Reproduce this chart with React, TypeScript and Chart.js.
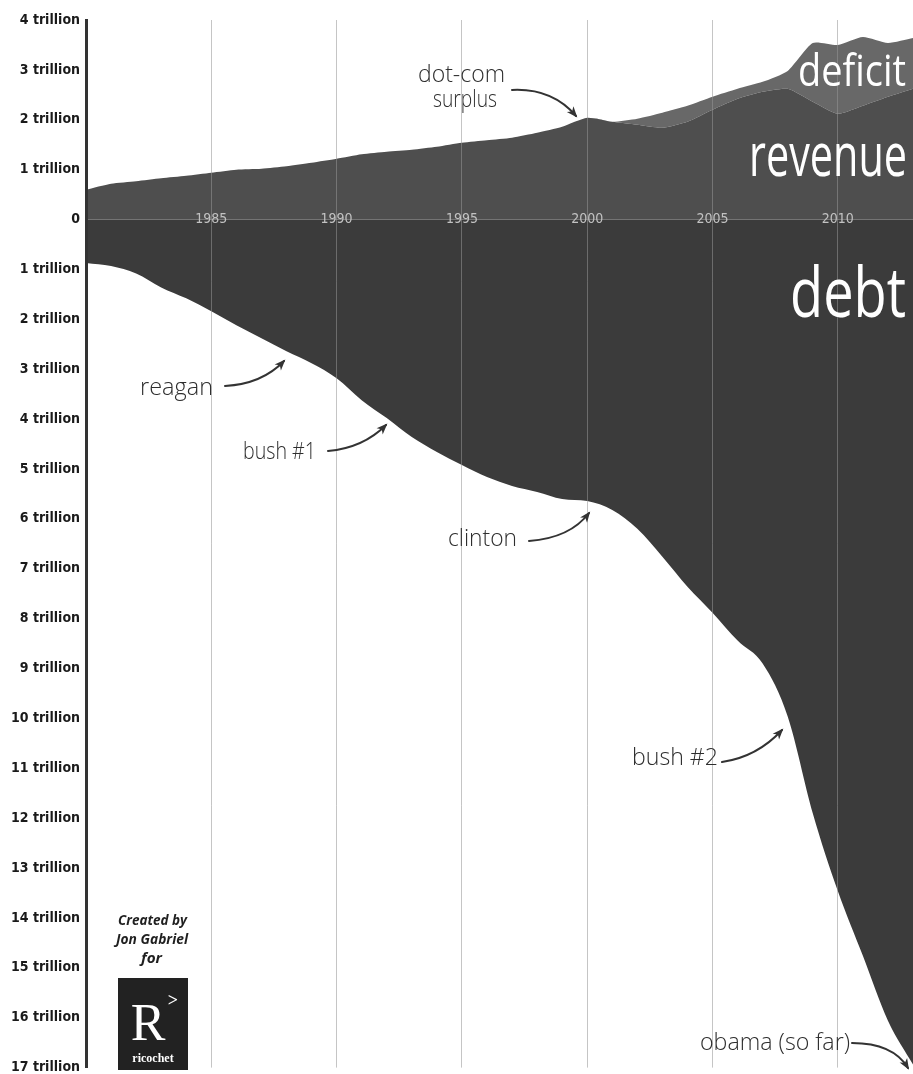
import React, { useEffect, useRef } from 'react';
import { Chart, registerables } from 'chart.js';

Chart.register(...registerables);

// ---- data (trillions of dollars) ----
const years = [
  1980, 1981, 1982, 1983, 1984, 1985, 1986, 1987, 1988, 1989,
  1990, 1991, 1992, 1993, 1994, 1995, 1996, 1997, 1998, 1999,
  2000, 2001, 2002, 2003, 2004, 2005, 2006, 2007, 2008, 2009,
  2010, 2011, 2012, 2013,
];

// lower (dark) band above zero
const revenue = [
  0.60, 0.72, 0.77, 0.83, 0.88, 0.94, 1.00, 1.02, 1.07, 1.14,
  1.22, 1.31, 1.36, 1.40, 1.46, 1.54, 1.59, 1.64, 1.74, 1.86,
  2.04, 1.96, 1.90, 1.84, 1.96, 2.20, 2.42, 2.56, 2.62, 2.36,
  2.12, 2.28, 2.46, 2.62,
];

// top line (revenue + deficit)
const spending = [
  0.60, 0.72, 0.77, 0.83, 0.88, 0.94, 1.00, 1.02, 1.07, 1.14,
  1.22, 1.31, 1.36, 1.40, 1.46, 1.54, 1.59, 1.64, 1.74, 1.86,
  2.04, 1.96, 2.02, 2.14, 2.28, 2.46, 2.62, 2.76, 2.98, 3.54,
  3.50, 3.66, 3.54, 3.64,
];

// national debt (drawn downward)
const debt = [
  0.87, 0.93, 1.08, 1.36, 1.58, 1.84, 2.12, 2.38, 2.64, 2.88,
  3.18, 3.62, 3.98, 4.36, 4.66, 4.92, 5.16, 5.34, 5.46, 5.60,
  5.64, 5.82, 6.20, 6.76, 7.36, 7.88, 8.44, 8.90, 9.96, 11.90,
  13.46, 14.76, 16.06, 16.94,
];

const yearTicks = [1985, 1990, 1995, 2000, 2005, 2010];
const valueTicks = [
  4, 3, 2, 1, 0, -1, -2, -3, -4, -5, -6, -7, -8, -9, -10,
  -11, -12, -13, -14, -15, -16, -17,
];

const bigLabels = ['deficit', 'revenue', 'debt'];
const noteLabels = ['dot-com', 'surplus', 'reagan', 'bush #1', 'clinton', 'bush #2', 'obama (so far)'];
const creditLines = ['Created by', 'Jon Gabriel', 'for'];

// ---- drawing helpers ----
function fitText(ctx: CanvasRenderingContext2D, text: string, left: number, base: number, width: number, font: string, color: string) {
  ctx.save();
  ctx.font = font;
  ctx.fillStyle = color;
  ctx.textAlign = 'left';
  ctx.textBaseline = 'alphabetic';
  const w = ctx.measureText(text).width || 1;
  ctx.translate(left, base);
  ctx.scale(width / w, 1);
  ctx.fillText(text, 0, 0);
  ctx.restore();
}

function arrow(ctx: CanvasRenderingContext2D, x0: number, y0: number, cx: number, cy: number, x1: number, y1: number) {
  ctx.save();
  ctx.strokeStyle = '#333';
  ctx.fillStyle = '#333';
  ctx.lineWidth = 2;
  ctx.lineCap = 'round';
  ctx.beginPath();
  ctx.moveTo(x0, y0);
  ctx.quadraticCurveTo(cx, cy, x1, y1);
  ctx.stroke();
  const a = Math.atan2(y1 - cy, x1 - cx);
  const L = 10;
  ctx.beginPath();
  ctx.moveTo(x1 + 2 * Math.cos(a), y1 + 2 * Math.sin(a));
  ctx.lineTo(x1 - L * Math.cos(a - 0.45), y1 - L * Math.sin(a - 0.45));
  ctx.lineTo(x1 - L * 0.6 * Math.cos(a), y1 - L * 0.6 * Math.sin(a));
  ctx.lineTo(x1 - L * Math.cos(a + 0.45), y1 - L * Math.sin(a + 0.45));
  ctx.closePath();
  ctx.fill();
  ctx.restore();
}

const handFont = (px: number) => `300 ${px}px "Open Sans", "Noto Sans", sans-serif`;
const bigFont = (px: number) => `500 ${px}px "Open Sans", "Noto Sans", sans-serif`;
const condensed = '"DejaVu Sans Condensed", "Liberation Sans Narrow", sans-serif';

const annotationPlugin = {
  id: 'annotations',
  afterDraw(chart: any) {
    const ctx: CanvasRenderingContext2D = chart.ctx;
    // big white series labels
    fitText(ctx, bigLabels[0], 798, 86, 108, bigFont(44), '#ffffff');
    fitText(ctx, bigLabels[1], 749, 176, 158, bigFont(60), '#ffffff');
    fitText(ctx, bigLabels[2], 790, 317, 116, bigFont(70), '#ffffff');

    // handwritten notes
    const ink = '#2e2e2e';
    fitText(ctx, noteLabels[0], 418, 82, 87, handFont(24), ink);
    fitText(ctx, noteLabels[1], 433, 107, 64, handFont(24), ink);
    fitText(ctx, noteLabels[2], 140, 395, 73, handFont(24), ink);
    fitText(ctx, noteLabels[3], 243, 459, 73, handFont(24), ink);
    fitText(ctx, noteLabels[4], 448, 546, 69, handFont(24), ink);
    fitText(ctx, noteLabels[5], 632, 765, 86, handFont(24), ink);
    fitText(ctx, noteLabels[6], 700, 1050, 150, handFont(24), ink);

    arrow(ctx, 512, 90, 552, 88, 576, 116);
    arrow(ctx, 225, 386, 262, 384, 284, 361);
    arrow(ctx, 328, 451, 363, 448, 386, 425);
    arrow(ctx, 529, 541, 570, 538, 589, 513);
    arrow(ctx, 722, 762, 757, 757, 782, 730);
    arrow(ctx, 852, 1043, 893, 1043, 908, 1068);

    // credit block
    ctx.save();
    ctx.fillStyle = '#1f1f1f';
    ctx.textAlign = 'center';
    ctx.textBaseline = 'alphabetic';
    ctx.font = 'italic 700 14px "Open Sans", "Noto Sans", sans-serif';
    fitText(ctx, creditLines[0], 118, 925, 69, 'italic 700 14px "Open Sans", "Noto Sans", sans-serif', '#1f1f1f');
    fitText(ctx, creditLines[1], 116, 944, 72, 'italic 700 14px "Open Sans", "Noto Sans", sans-serif', '#1f1f1f');
    fitText(ctx, creditLines[2], 141, 963, 21, 'italic 700 14px "Open Sans", "Noto Sans", sans-serif', '#1f1f1f');
    // logo
    ctx.fillStyle = '#222222';
    ctx.fillRect(118, 978, 70, 92);
    ctx.fillStyle = '#ffffff';
    ctx.font = '400 52px "Liberation Serif", "DejaVu Serif", serif';
    ctx.fillText('R', 148, 1040);
    ctx.font = '700 18px "Liberation Serif", "DejaVu Serif", serif';
    ctx.fillText('>', 173, 1006);
    ctx.font = '700 12px "Liberation Serif", "DejaVu Serif", serif';
    ctx.fillText('ricochet', 153, 1062);
    ctx.restore();
  },
};

export default function App() {
  const ref = useRef<HTMLCanvasElement | null>(null);

  useEffect(() => {
    if (!ref.current) return;
    const chart = new Chart(ref.current, {
      type: 'line',
      data: {
        datasets: [
          {
            label: 'revenue',
            data: years.map((yr, i) => ({ x: yr, y: revenue[i] })),
            backgroundColor: '#4e4e4e',
            borderWidth: 0,
            pointRadius: 0,
            fill: 'origin',
            tension: 0.2,
          },
          {
            label: 'deficit',
            data: years.map((yr, i) => ({ x: yr, y: spending[i] })),
            backgroundColor: '#686868',
            borderWidth: 0,
            pointRadius: 0,
            fill: '-1',
            tension: 0.2,
          },
          {
            label: 'debt',
            data: years.map((yr, i) => ({ x: yr, y: -debt[i] })),
            backgroundColor: '#3b3b3b',
            borderWidth: 0,
            pointRadius: 0,
            fill: 'origin',
            cubicInterpolationMode: 'monotone',
          },
        ],
      },
      options: {
        animation: false,
        responsive: false,
        devicePixelRatio: 1,
        layout: { padding: { top: 20, right: 0, bottom: 14, left: 0 } },
        plugins: {
          legend: { display: false },
          tooltip: { enabled: false },
        },
        scales: {
          x: {
            type: 'linear',
            min: 1980,
            max: 2013,
            position: { y: 0 } as any,
            afterBuildTicks: (s: any) => {
              s.ticks = yearTicks.map((v) => ({ value: v }));
            },
            grid: {
              color: 'rgba(150,150,150,0.55)',
              lineWidth: 1,
              drawTicks: false,
              z: 1,
            },
            border: { display: false },
            ticks: {
              z: 1,
              padding: -9,
              color: '#c2c2c2',
              autoSkip: false,
              maxRotation: 0,
              font: { family: condensed, size: 14 },
              callback: (v: any) => String(v),
            },
          },
          y: {
            type: 'linear',
            position: 'left',
            min: -17,
            max: 4,
            afterBuildTicks: (s: any) => {
              s.ticks = valueTicks.map((v) => ({ value: v }));
            },
            afterFit: (s: any) => {
              s.width = 86;
            },
            grid: { display: false, drawTicks: false },
            border: { display: true, color: '#333333', width: 3, z: 1 },
            ticks: {
              padding: 6,
              autoSkip: false,
              color: '#1a1a1a',
              font: { family: condensed, size: 14, weight: 'bold' },
              callback: (v: any) => (v === 0 ? '0' : `${Math.abs(v)} trillion`),
            },
          },
        },
      },
      plugins: [annotationPlugin],
    } as any);
    return () => chart.destroy();
  }, []);

  return (
    <div style={{ position: 'fixed', left: 0, top: 0, width: 913, height: 1082, background: '#ffffff', overflow: 'hidden' }}>
      <canvas ref={ref} width={913} height={1082} style={{ width: 913, height: 1082, display: 'block' }} />
    </div>
  );
}
